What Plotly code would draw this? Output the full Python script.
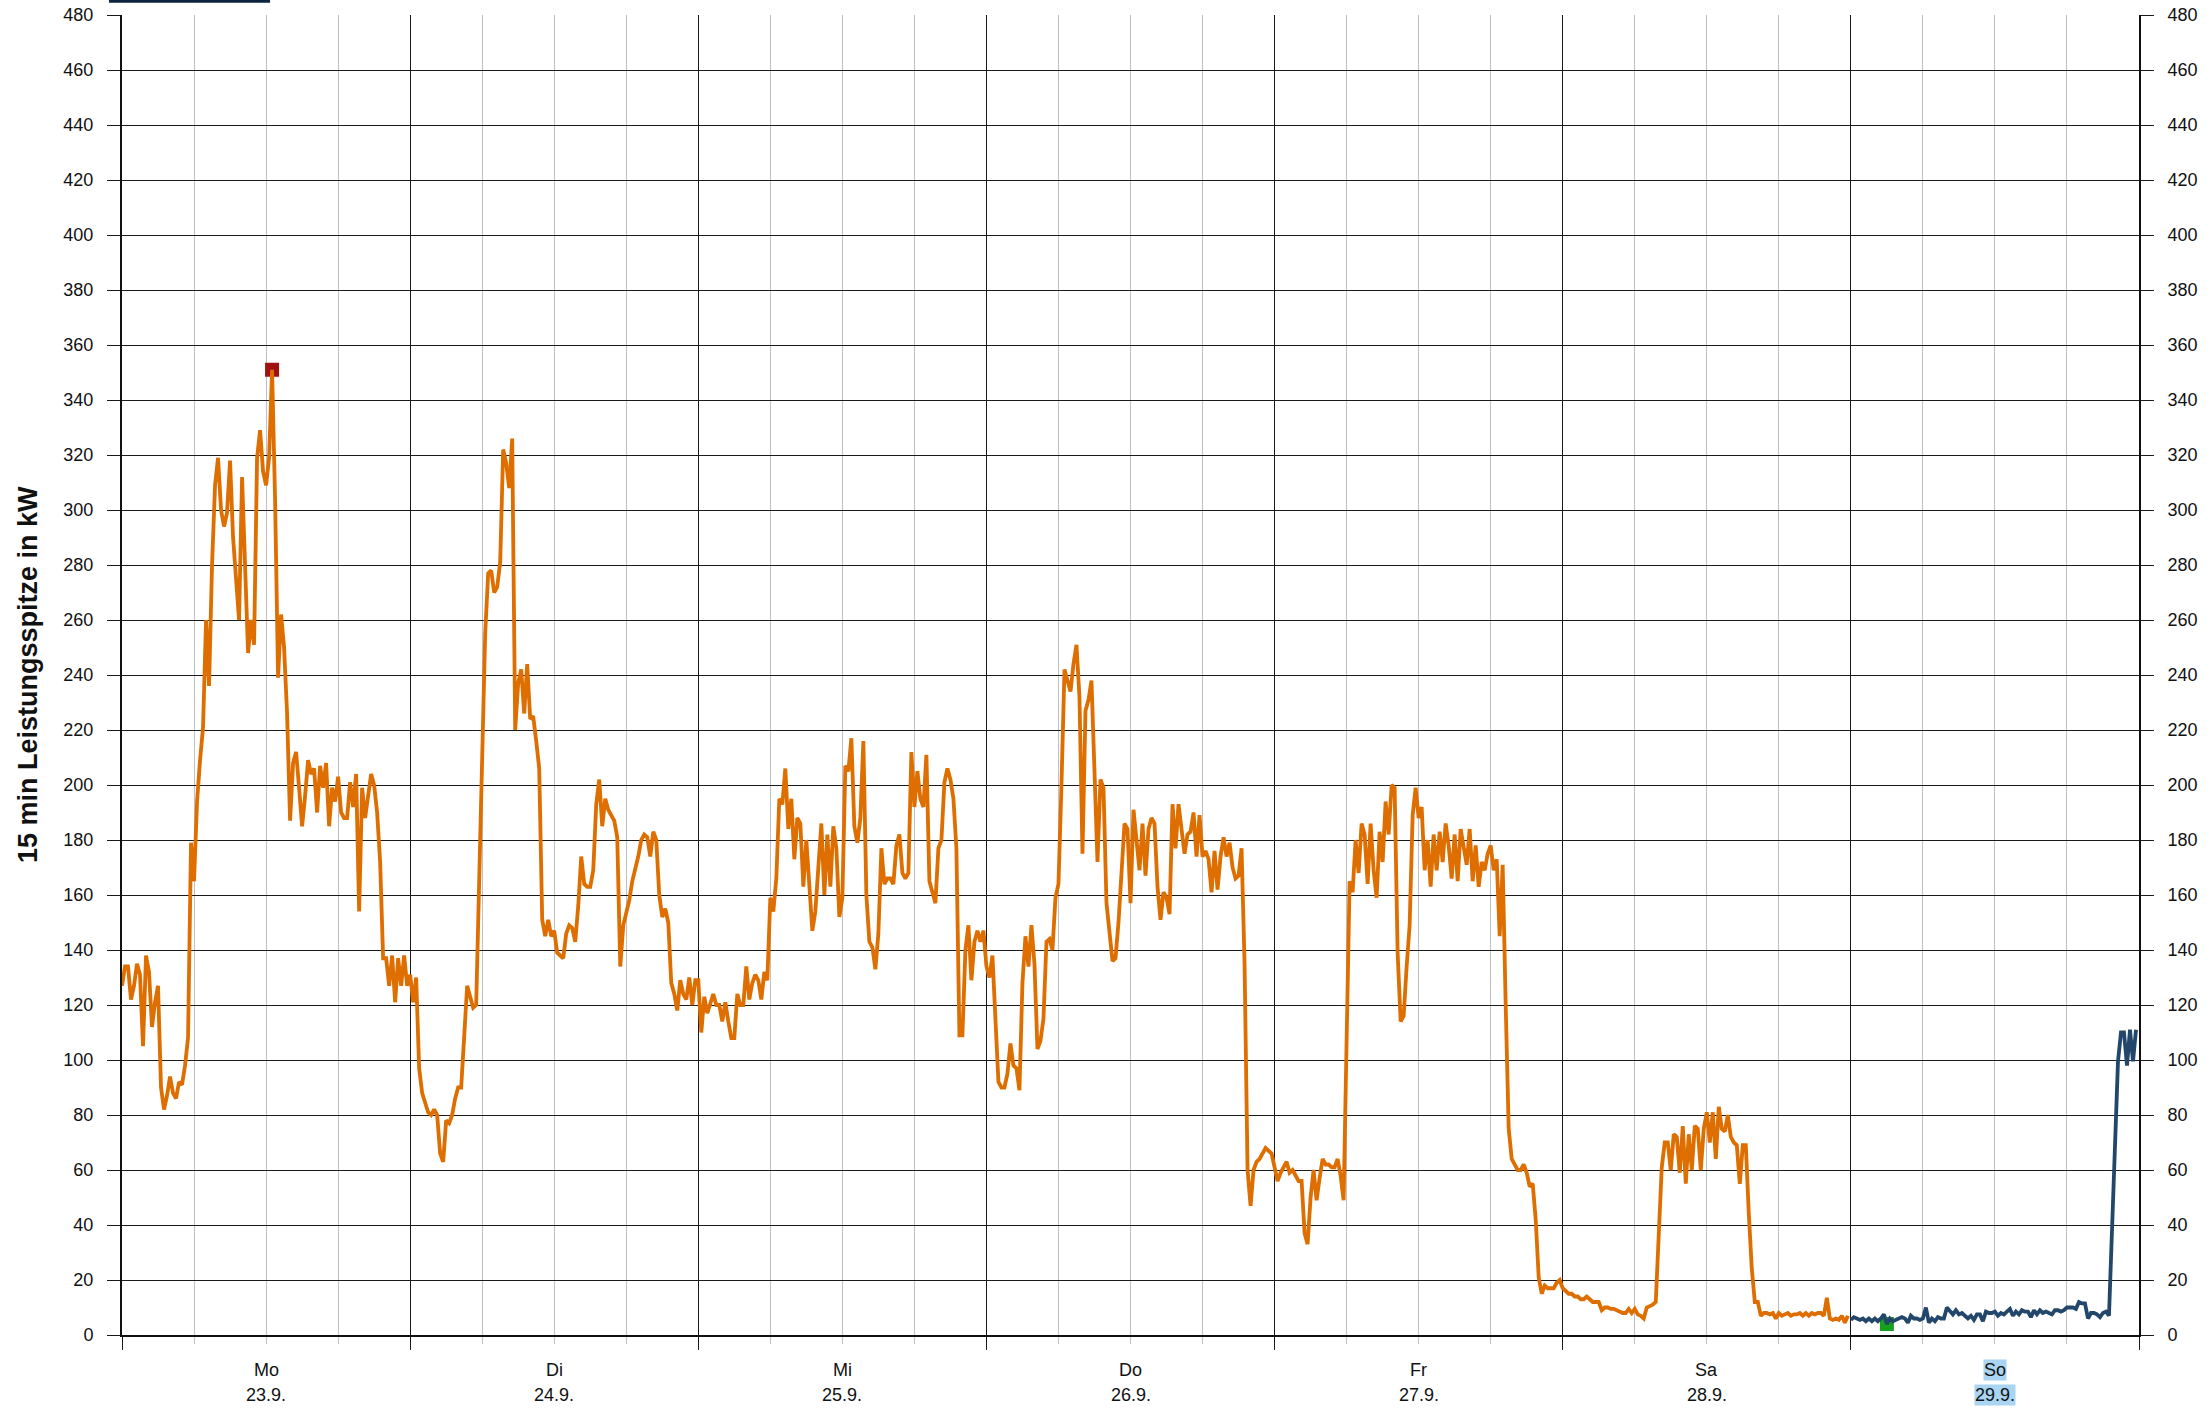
import numpy as np
import pandas as pd
import plotly.graph_objects as go

# ---- data: 15-min peak power (kW), one list per day (96 values each) ----
mo = [127, 134, 134, 122, 127, 135, 131, 105, 138, 132,
      112, 121, 127, 90, 82, 87, 94, 88, 86, 92,
      91, 98, 108, 179, 165, 194, 209, 221, 260, 236,
      280, 309, 319, 300, 294, 299, 318, 290, 275, 260,
      312, 277, 248, 260, 251, 319, 329, 314, 309, 319,
      351, 304, 239, 262, 250, 226, 187, 208, 212, 199,
      185, 196, 209, 204, 206, 190, 207, 199, 208, 185,
      199, 194, 203, 190, 188, 188, 201, 192, 204, 154,
      199, 188, 195, 204, 200, 190, 172, 137, 137, 127,
      138, 121, 137, 127, 138, 127]
di = [131, 121, 130, 97, 88, 84, 81, 80, 82, 80,
      66, 63, 78, 77, 80, 86, 90, 90, 109, 127,
      123, 119, 120, 163, 199, 255, 277, 278, 270, 272,
      281, 322, 317, 308, 326, 220, 237, 242, 226, 244,
      224, 225, 216, 206, 151, 145, 151, 145, 147, 139,
      138, 137, 146, 149, 148, 143, 156, 174, 164, 163,
      163, 169, 193, 202, 185, 195, 191, 189, 187, 181,
      134, 149, 154, 158, 165, 169, 174, 180, 182, 181,
      174, 183, 180, 160, 152, 155, 150, 128, 124, 118,
      129, 124, 122, 130, 120, 129]
mi = [129, 110, 123, 117, 120, 124, 120, 120, 114, 121,
      114, 108, 108, 124, 120, 120, 134, 122, 128, 131,
      129, 122, 132, 129, 159, 154, 166, 195, 193, 206,
      184, 195, 173, 188, 186, 163, 180, 164, 147, 154,
      169, 186, 160, 182, 163, 185, 177, 152, 159, 207,
      205, 217, 185, 179, 188, 216, 160, 143, 141, 133,
      146, 177, 164, 166, 166, 164, 178, 182, 168, 166,
      168, 212, 192, 205, 195, 192, 211, 165, 161, 157,
      177, 180, 201, 206, 202, 195, 177, 109, 109, 140,
      149, 129, 143, 147, 143, 147]
do = [134, 130, 138, 114, 92, 90, 90, 95, 106, 98,
      97, 89, 128, 145, 134, 149, 135, 104, 107, 115,
      143, 144, 140, 159, 164, 200, 242, 238, 234, 244,
      251, 232, 175, 227, 231, 238, 205, 172, 202, 199,
      157, 146, 136, 137, 150, 168, 186, 184, 157, 191,
      180, 169, 186, 167, 184, 188, 186, 163, 151, 161,
      159, 153, 193, 177, 193, 184, 175, 182, 183, 190,
      174, 189, 174, 176, 173, 161, 176, 162, 174, 181,
      174, 179, 170, 166, 167, 177, 135, 60, 47, 60,
      63, 64, 66, 68, 67, 66]
fr = [61, 56, 59, 61, 63, 59, 60, 58, 56, 56,
      37, 33, 50, 60, 49, 57, 64, 62, 62, 61,
      61, 64, 58, 49, 110, 165, 161, 180, 168, 186,
      182, 164, 186, 169, 159, 183, 172, 194, 182, 200,
      199, 139, 114, 116, 134, 149, 189, 199, 188, 192,
      169, 180, 163, 182, 169, 183, 172, 186, 178, 166,
      182, 165, 184, 178, 171, 184, 165, 178, 163, 172,
      169, 175, 178, 169, 173, 145, 171, 120, 75, 64,
      62, 60, 60, 62, 59, 54, 55, 42, 21, 15,
      18, 17, 17, 17, 19, 20]
sa = [17, 16, 15, 15, 14, 14, 13, 13, 14, 13,
      12, 12, 12, 9, 10, 10, 9.5, 9.5, 9, 8.5,
      8, 8, 9.5, 8, 9.5, 7.5, 7, 6, 10, 10.5,
      11, 12, 35, 61, 70, 70, 60, 73, 72, 59,
      76, 55, 73, 60, 76, 75, 60, 75, 81, 70,
      81, 64, 83, 75, 74, 80, 72, 70, 69, 55,
      69, 69, 44, 24, 12, 12, 7, 8, 8, 7.5,
      8, 6, 8, 7, 7.5, 8, 7, 7.5, 7.5, 8,
      7, 8, 7, 8, 7.5, 8, 8, 7, 13.5, 6,
      5.5, 6, 5.5, 7, 4.5, 7]
so = [5.5, 6.5, 6, 5.5, 6, 5, 6, 5, 6, 5,
      6, 7.5, 4, 6, 5, 5.5, 6, 6.5, 6, 4.5,
      7, 6, 6, 5.5, 6, 10, 4.5, 6, 5, 6.5,
      6, 6, 10, 8.5, 7.5, 9, 7.5, 8, 7, 6,
      7, 5.5, 7.5, 7.5, 5, 8.5, 8, 8, 8.5, 7,
      8, 7.5, 8.5, 9.5, 7, 8.5, 7.5, 9, 8.5, 8.5,
      6.5, 9, 7.5, 9, 8, 8.5, 8, 7.5, 9, 9,
      8.5, 9, 10, 10, 10, 9.5, 12, 11.5, 11.5, 6,
      8, 8, 7.5, 6.5, 8, 8.5, 7, 38, 72, 99.5,
      110, 110, 98, 111, 99.5, 111]

day_names = ["Mo", "Di", "Mi", "Do", "Fr", "Sa", "So"]
day_dates = ["23.9.", "24.9.", "25.9.", "26.9.", "27.9.", "28.9.", "29.9."]
y_ticks = list(range(0, 481, 20))
y_title = "15 min Leistungsspitze in kW"

# ---- derived ----
week_start = pd.Timestamp("2024-09-23")
past = mo + di + mi + do + fr + sa
t_past = pd.date_range(week_start, periods=len(past), freq="15min")
t_now = pd.date_range(week_start + pd.Timedelta(days=6), periods=len(so), freq="15min")
imax = int(np.argmax(past))
imin = int(np.argmin(so))

ORANGE = "#DE6E00"
BLUE = "#23466B"
FONT = "Liberation Sans, Arial, sans-serif"

fig = go.Figure()
fig.add_trace(go.Scatter(x=[t_past[imax]], y=[past[imax]], mode="markers",
                         marker=dict(symbol="square", size=14, color="#A01212",
                                     line=dict(width=0)), showlegend=False))
fig.add_trace(go.Scatter(x=[t_now[imin]], y=[so[imin]], mode="markers",
                         marker=dict(symbol="square", size=14, color="#17A01D",
                                     line=dict(width=0)), showlegend=False))
fig.add_trace(go.Scatter(x=t_past, y=past, mode="lines",
                         line=dict(color=ORANGE, width=3.8), showlegend=False))
fig.add_trace(go.Scatter(x=t_now, y=so, mode="lines",
                         line=dict(color=BLUE, width=3.8), showlegend=False))
# dummy trace so the mirrored right axis is drawn
fig.add_trace(go.Scatter(x=[week_start], y=[0], yaxis="y2", mode="markers",
                         marker=dict(opacity=0), hoverinfo="skip", showlegend=False))

yax = dict(range=[0, 480], tickvals=y_ticks, ticktext=[str(v) for v in y_ticks],
           showgrid=True, gridcolor="#1a1a1a", gridwidth=1,
           ticks="outside", ticklen=13, tickcolor="#1a1a1a", tickwidth=1,
           tickfont=dict(family=FONT, size=18, color="#111"),
           showline=True, linecolor="#111", linewidth=2, zeroline=False,
           ticklabelstandoff=10, automargin=False)

fig.update_layout(
    width=2212, height=1414,
    margin=dict(l=122, r=73, t=15, b=79),
    paper_bgcolor="white", plot_bgcolor="white",
    font=dict(family=FONT, color="#111"),
    xaxis=dict(range=[week_start, week_start + pd.Timedelta(days=7)],
               tick0=week_start, dtick=86400000,
               showgrid=True, gridcolor="#1a1a1a", gridwidth=1,
               ticks="outside", ticklen=13, tickcolor="#1a1a1a", tickwidth=1,
               showticklabels=False, automargin=False,
               showline=True, linecolor="#111", linewidth=2, zeroline=False,
               minor=dict(dtick=21600000, tick0=week_start, showgrid=True,
                          gridcolor="#c0c0c0", gridwidth=1,
                          ticks="outside", ticklen=7, tickcolor="#c0c0c0")),
    yaxis=yax,
    yaxis2=dict(yax, overlaying="y", side="right", showgrid=False),
)

annotations = []
for d, (name, date) in enumerate(zip(day_names, day_dates)):
    xc = week_start + pd.Timedelta(days=d, hours=12)
    hl = "#A9D4F2" if d == 6 else None
    annotations.append(dict(x=xc, xref="x", y=-0.0265, yref="paper", text=name,
                            showarrow=False, xanchor="center", yanchor="middle",
                            font=dict(family=FONT, size=18, color="#111"),
                            bgcolor=hl, borderpad=0))
    annotations.append(dict(x=xc, xref="x", y=-0.0455, yref="paper", text=date,
                            showarrow=False, xanchor="center", yanchor="middle",
                            font=dict(family=FONT, size=18, color="#111"),
                            bgcolor=hl, borderpad=0))
annotations.append(dict(x=-0.0466, xref="paper", y=0.5, yref="paper",
                        text="<b>" + y_title + "</b>",
                        textangle=-90, showarrow=False, xanchor="center", yanchor="middle",
                        font=dict(family=FONT, size=27, color="#111")))
fig.update_layout(annotations=annotations)

# clipped legend stroke at the very top
fig.add_shape(type="rect", xref="paper", yref="paper",
              x0=-0.00645, x1=0.0734, y0=1.0093, y1=1.0114,
              fillcolor="#0D2340", line=dict(width=0))

fig.write_html("out.html", config={"displayModeBar": False},
               post_script="document.body.style.margin='0';document.body.style.overflow='hidden';")
